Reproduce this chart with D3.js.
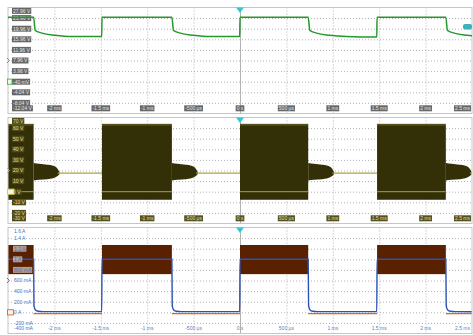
<!DOCTYPE html>
<html>
<head>
<meta charset="utf-8">
<script src="https://cdn.jsdelivr.net/npm/d3@7"></script>
<style>
html, body { margin: 0; padding: 0; background: #fff; }
svg { display: block; }
text { font-family: "Liberation Sans", Arial, sans-serif; }
</style>
</head>
<body>
<div id="chart"></div>
<script>
// time axis (ms)
const timeGrid = [-2, -1.5, -1, -0.5, 0, 0.5, 1, 1.5, 2]
const timeLabelAt = [-2, -1.5, -1, -0.5, 0, 0.5, 1, 1.5, 2, 2.5]
const timeLabels = ['-2 ms', '-1.5 ms', '-1 ms', '-500 µs', '0 s', '500 µs', '1 ms', '1.5 ms', '2 ms', '2.5 ms']

// vertical scales, top to bottom
const ch1Values = [27.96, 23.96, 19.96, 15.96, 11.96, 7.96, 3.96, -0.04, -4.04, -8.04, -12.04]
const ch1Labels = ['27.96 V', '23.96 V', '19.96 V', '15.96 V', '11.96 V', '7.96 V', '3.96 V', '-40 mV', '-4.04 V', '-8.04 V', '-12.04 V']
const ch2Values = [70, 60, 50, 40, 30, 20, 10, 0, -10, -20, -30]
const ch2Labels = ['70 V', '60 V', '50 V', '40 V', '30 V', '20 V', '10 V', '0 V', '-10 V', '-20 V', '-30 V']
const ch3Values = [1.6, 1.4, 1.2, 1, 0.8, 0.6, 0.4, 0.2, 0, -0.2, -0.4]
const ch3Labels = ['1.6 A', '1.4 A', '1.2 A', '1 A', '800 mA', '600 mA', '400 mA', '200 mA', '0 A', '-200 mA', '-400 mA']

// switching edges (ms)
const riseTimes = [-1.487, 0, 1.477]
const fallTimes = [-2.224, -0.734, 0.735, 2.218]

// ch1 (green): high level, and [ms after fall, V] during the off phase
const ch1High = 24.3
const ch1LowShape = [[0.017, 19.3], [0.09, 18.3], [0.23, 17.5], [0.41, 17.0], [0.735, 16.8]]

// ch2 (yellow): burst envelope, bright levels, ringing tail [ms after fall, top V, bottom V], idle level
const ch2Burst = [-7.6, 64]
const ch2BurstLines = [63, 0]
const ch2Tail = [[0, 27, 10.6], [0.06, 26.3, 11.2], [0.15, 25.5, 11.8], [0.21, 24.5, 12.6], [0.25, 22.5, 14.3], [0.28, 18.2, 16.8]]
const ch2Idle = 17.5

// ch3 (current): ripple band, mean level, off-phase decay [ms after fall, A], orange idle
const ch3Burst = [0.72, 1.27]
const ch3High = 1.0
const ch3LowShape = [[0.004, 0.12], [0.02, 0.045], [0.05, 0.02], [0.1, 0.012], [0.74, 0.01]]
const ch3Orange = -0.025

const W = 473, H = 335
const plotLeft = 8, plotRight = 472
const panelTops = [7.5, 117.5, 227.5]
const panelH = 106

const x = d3.scaleLinear().domain([-2.5, 2.5]).range([plotLeft, plotRight])

const edges = riseTimes.map(t => ({ t, up: true }))
    .concat(fallTimes.map(t => ({ t, up: false })))
    .sort((a, b) => a.t - b.t)

const highs = [], lows = []
let segStart = -2.6
edges.forEach(e => { (e.up ? lows : highs).push([segStart, e.t]); segStart = e.t })
;(edges[edges.length - 1].up ? highs : lows).push([segStart, 2.6])

function stepPoints(high, lowShape) {
    const pts = [[-2.6, high]]
    edges.forEach((e, i) => {
        const next = edges[i + 1]
        if (!e.up) {
            pts.push([e.t, high])
            lowShape.forEach(([dt, v]) => {
                if (!next || e.t + dt < next.t - 0.005) pts.push([e.t + dt, v])
            })
        } else {
            pts.push([e.t - 0.003, pts[pts.length - 1][1]])
            pts.push([e.t, high])
        }
    })
    return pts
}

const svg = d3.select('#chart').append('svg')
    .attr('width', W).attr('height', H)
    .attr('viewBox', `0 0 ${W} ${H}`)
    .attr('xmlns', 'http://www.w3.org/2000/svg')

function label(g, px, py, text, opt) {
    const t = g.append('text')
        .attr('y', py).attr('dy', '0.36em')
        .attr('font-size', 5).attr('fill', opt.color)
        .text(text)
    const w = t.node().getComputedTextLength()
    let x0
    if (opt.anchor === 'middle') { t.attr('x', px).attr('text-anchor', 'middle'); x0 = px - w / 2 - 1 }
    else if (opt.anchor === 'end') { t.attr('x', px).attr('text-anchor', 'end'); x0 = px - w - 1 }
    else { t.attr('x', px + 1); x0 = px }
    if (opt.bg) {
        g.insert('rect', () => t.node())
            .attr('x', x0).attr('y', py - 3).attr('width', w + 2).attr('height', 6)
            .attr('fill', opt.bg)
    }
}

function panel(i, values, labels, style) {
    const top = panelTops[i]
    const y = d3.scaleLinear().domain([values[values.length - 1], values[0]]).range([top + panelH, top])
    const g = svg.append('g')

    g.append('clipPath').attr('id', 'clip' + i)
        .append('rect').attr('x', plotLeft).attr('y', top).attr('width', plotRight - plotLeft).attr('height', panelH)

    const grid = g.append('g')
    grid.append('g')
        .attr('transform', `translate(0,${top + panelH})`)
        .call(d3.axisBottom(x).tickValues(timeGrid).tickSize(-panelH).tickFormat(''))
        .call(a => a.select('.domain').remove())
        .selectAll('line')
        .attr('stroke', '#b2b2b2')
        .attr('stroke-dasharray', d => d === 0 ? null : '1,2')
    grid.append('g')
        .attr('transform', `translate(${plotLeft},0)`)
        .call(d3.axisLeft(y).tickValues(values.slice(1, -1)).tickSize(-(plotRight - plotLeft)).tickFormat(''))
        .call(a => a.select('.domain').remove())
        .selectAll('line')
        .attr('stroke', '#b2b2b2')
        .attr('stroke-dasharray', '1,2')

    const plot = g.append('g').attr('clip-path', `url(#clip${i})`)

    return { i, top, y, g, plot, labels, values, style }
}

function finish(p) {
    const { top, y, g, labels, values, style } = p
    g.append('rect')
        .attr('x', plotLeft).attr('y', top).attr('width', plotRight - plotLeft).attr('height', panelH)
        .attr('fill', 'none').attr('stroke', '#c6c6c6')

    const lg = g.append('g')
    values.forEach((v, k) => {
        let py = y(v)
        if (k === 0) py = top + 3.4
        if (k === values.length - 1) py = top + panelH - 5.2
        label(lg, style.labelX, py, labels[k], style.valueLabel)
    })
    timeLabelAt.forEach((t, k) => {
        const last = k === timeLabelAt.length - 1
        label(lg, last ? plotRight - 2 : x(t), top + panelH - 5.2, timeLabels[k],
            Object.assign({}, style.timeLabel, { anchor: last ? 'end' : 'middle' }))
    })

    // trigger position
    g.append('path')
        .attr('transform', `translate(${x(0)},${top})`)
        .attr('d', 'M-4,0L4,0L0,5.5Z')
        .attr('fill', '#33c5dc')
}

function chevron(g, py, color) {
    g.append('path')
        .attr('d', `M7,${py - 2.5}L9.5,${py}L7,${py + 2.5}`)
        .attr('fill', 'none').attr('stroke', color).attr('stroke-width', 1)
}

function groundBox(g, py, color, w) {
    g.append('rect')
        .attr('x', 7.5).attr('y', py - 2.6).attr('width', w).attr('height', 5.2)
        .attr('fill', '#f4f4ec').attr('stroke', color).attr('stroke-width', 0.9)
}

// ---------- panel 1 : green voltage ----------
const p1 = panel(0, ch1Values, ch1Labels, {
    labelX: 12,
    valueLabel: { bg: '#676767', color: '#e6e6e6' },
    timeLabel: { bg: '#676767', color: '#e6e6e6' }
})
finish(p1)
// the trace sits on top of the scale labels here
p1.g.append('g').attr('clip-path', 'url(#clip0)')
    .append('path')
    .datum(stepPoints(ch1High, ch1LowShape))
    .attr('d', d3.line().x(d => x(d[0])).y(d => p1.y(d[1])).curve(d3.curveMonotoneX))
    .attr('fill', 'none').attr('stroke', '#249a2c').attr('stroke-width', 1.5)
chevron(p1.g, p1.y(7.96), '#3cbf3c')
groundBox(p1.g, p1.y(-0.04), '#3cbf3c', 4.5)
p1.g.append('rect')
    .attr('x', 463).attr('y', p1.y(20.7) - 2.8).attr('width', 9).attr('height', 5.6).attr('rx', 2)
    .attr('fill', '#3fb0c0')

// ---------- panel 2 : switching node ----------
const p2 = panel(1, ch2Values, ch2Labels, {
    labelX: 12,
    valueLabel: { bg: '#4f4c1c', color: '#e2de9c' },
    timeLabel: { bg: '#55521f', color: '#e2de9c' }
})
p2.plot.selectAll('rect.burst')
    .data(highs)
    .enter().append('rect')
    .attr('class', 'burst')
    .attr('x', d => x(d[0])).attr('width', d => x(d[1]) - x(d[0]))
    .attr('y', p2.y(ch2Burst[1])).attr('height', p2.y(ch2Burst[0]) - p2.y(ch2Burst[1]))
    .attr('fill', '#332f07')
highs.forEach(h => {
    ch2BurstLines.forEach((v, k) => {
        p2.plot.append('line')
            .attr('x1', x(h[0])).attr('x2', x(h[1]))
            .attr('y1', p2.y(v)).attr('y2', p2.y(v))
            .attr('stroke', k === 0 ? '#6f6b2c' : '#a8a23c').attr('stroke-width', 1)
    })
})
const tailArea = d3.area()
    .x(d => x(d[0])).y0(d => p2.y(d[2])).y1(d => p2.y(d[1]))
    .curve(d3.curveMonotoneX)
fallTimes.forEach(f => {
    p2.plot.append('path')
        .datum(ch2Tail.map(([dt, a, b]) => [f + dt, a, b]))
        .attr('d', tailArea)
        .attr('fill', '#332f07')
})
lows.forEach(l => {
    p2.plot.append('line')
        .attr('x1', x(l[0] + ch2Tail[ch2Tail.length - 1][0] - 0.02)).attr('x2', x(l[1]))
        .attr('y1', p2.y(ch2Idle)).attr('y2', p2.y(ch2Idle))
        .attr('stroke', '#aaa43c').attr('stroke-width', 1.1)
})
finish(p2)
chevron(p2.g, p2.y(20), '#c8c040')
groundBox(p2.g, p2.y(0), '#d8cc30', 6.5)

// ---------- panel 3 : current ----------
const p3 = panel(2, ch3Values, ch3Labels, {
    labelX: 13,
    valueLabel: { bg: 'rgba(255,255,255,0.55)', color: '#4a6fc6' },
    timeLabel: { color: '#5a7ccc' }
})
p3.plot.selectAll('rect.burst')
    .data(highs)
    .enter().append('rect')
    .attr('class', 'burst')
    .attr('x', d => x(d[0])).attr('width', d => x(d[1]) - x(d[0]))
    .attr('y', p3.y(ch3Burst[1])).attr('height', p3.y(ch3Burst[0]) - p3.y(ch3Burst[1]))
    .attr('fill', '#5a2100')
lows.forEach(l => {
    p3.plot.append('line')
        .attr('x1', x(l[0])).attr('x2', x(l[1]))
        .attr('y1', p3.y(ch3Orange)).attr('y2', p3.y(ch3Orange))
        .attr('stroke', '#e4650f').attr('stroke-width', 1.4)
})
p3.plot.append('path')
    .datum(stepPoints(ch3High, ch3LowShape))
    .attr('d', d3.line().x(d => x(d[0])).y(d => p3.y(d[1])).curve(d3.curveMonotoneX))
    .attr('fill', 'none').attr('stroke', '#2a52b4').attr('stroke-width', 1.4)
finish(p3)
chevron(p3.g, p3.y(0.6), '#4a6fc6')
groundBox(p3.g, p3.y(0), '#e4650f', 6)
</script>
</body>
</html>
